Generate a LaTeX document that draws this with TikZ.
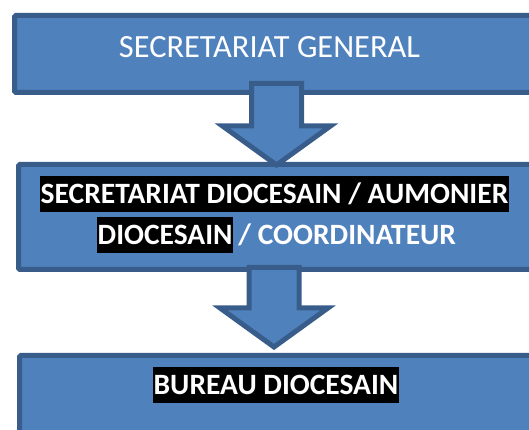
\documentclass[tikz,border=0pt]{standalone}
\usepackage{fontspec}
\setmainfont{Carlito}
\usetikzlibrary{positioning,calc}
\definecolor{boxfill}{HTML}{4F81BD}
\definecolor{boxline}{HTML}{385D8A}
\tikzset{
	box/.style={draw=boxline, fill=boxfill, line width=5pt, rounded corners=1.5pt, anchor=north west, minimum width=700pt},
	blockarrow/.style={draw=boxline, fill=boxfill, line width=5pt, line join=miter},
	title/.style={text=white, inner sep=0pt, font=\fontsize{32.4}{38}\selectfont},
	hl/.style={fill=black, text=white, inner xsep=0.5pt, inner ysep=0pt, text height=27.5pt, text depth=8.5pt, font=\bfseries\fontsize{29.5}{36}\selectfont},
}
\begin{document}
\begin{tikzpicture}[x=1pt,y=1pt]
	\clip (0,0) rectangle (529,430);
	% boxes
	\node[box, minimum height=77pt] (sg) at (12,417) {};
	\node[box, minimum height=105pt] (sd) at (16,268) {};
	\node[box, minimum height=100pt] (bd) at (17,77) {};
	% block arrows
	\coordinate (top1) at (276.5,346.5);
	\coordinate (tip1) at (276.5,265);
	\coordinate (top2) at (274,162.5);
	\coordinate (tip2) at (274,83);
	\foreach \s/\e in {top1/tip1,top2/tip2}{
		\filldraw[blockarrow] let \p1=(\s), \p2=(\e) in
			(\x1-25,\y1) -- (\x1+25,\y1) -- (\x1+25,\y2+39) -- (\x1+54,\y2+39)
			-- (\x2,\y2) -- (\x1-54,\y2+39) -- (\x1-25,\y2+39) -- cycle;
	}
	% texts
	\node[title, anchor=base] (sgtext) at (269.5,372.7) {SECRETARIAT GENERAL};
	\node[hl, anchor=base] (sdline1) at (274.5,226.7) {SECRETARIAT DIOCESAIN / AUMONIER};
	\node[hl, anchor=base west] (sdline2) at (97,185) {DIOCESAIN};
	\node[title, anchor=base west, font=\bfseries\fontsize{29.5}{36}\selectfont] (sdline3) at (sdline2.base east) {\hspace{5pt}/ COORDINATEUR};
	\node[hl, anchor=base] (bdtext) at (276,35.7) {BUREAU DIOCESAIN};
\end{tikzpicture}
\end{document}
